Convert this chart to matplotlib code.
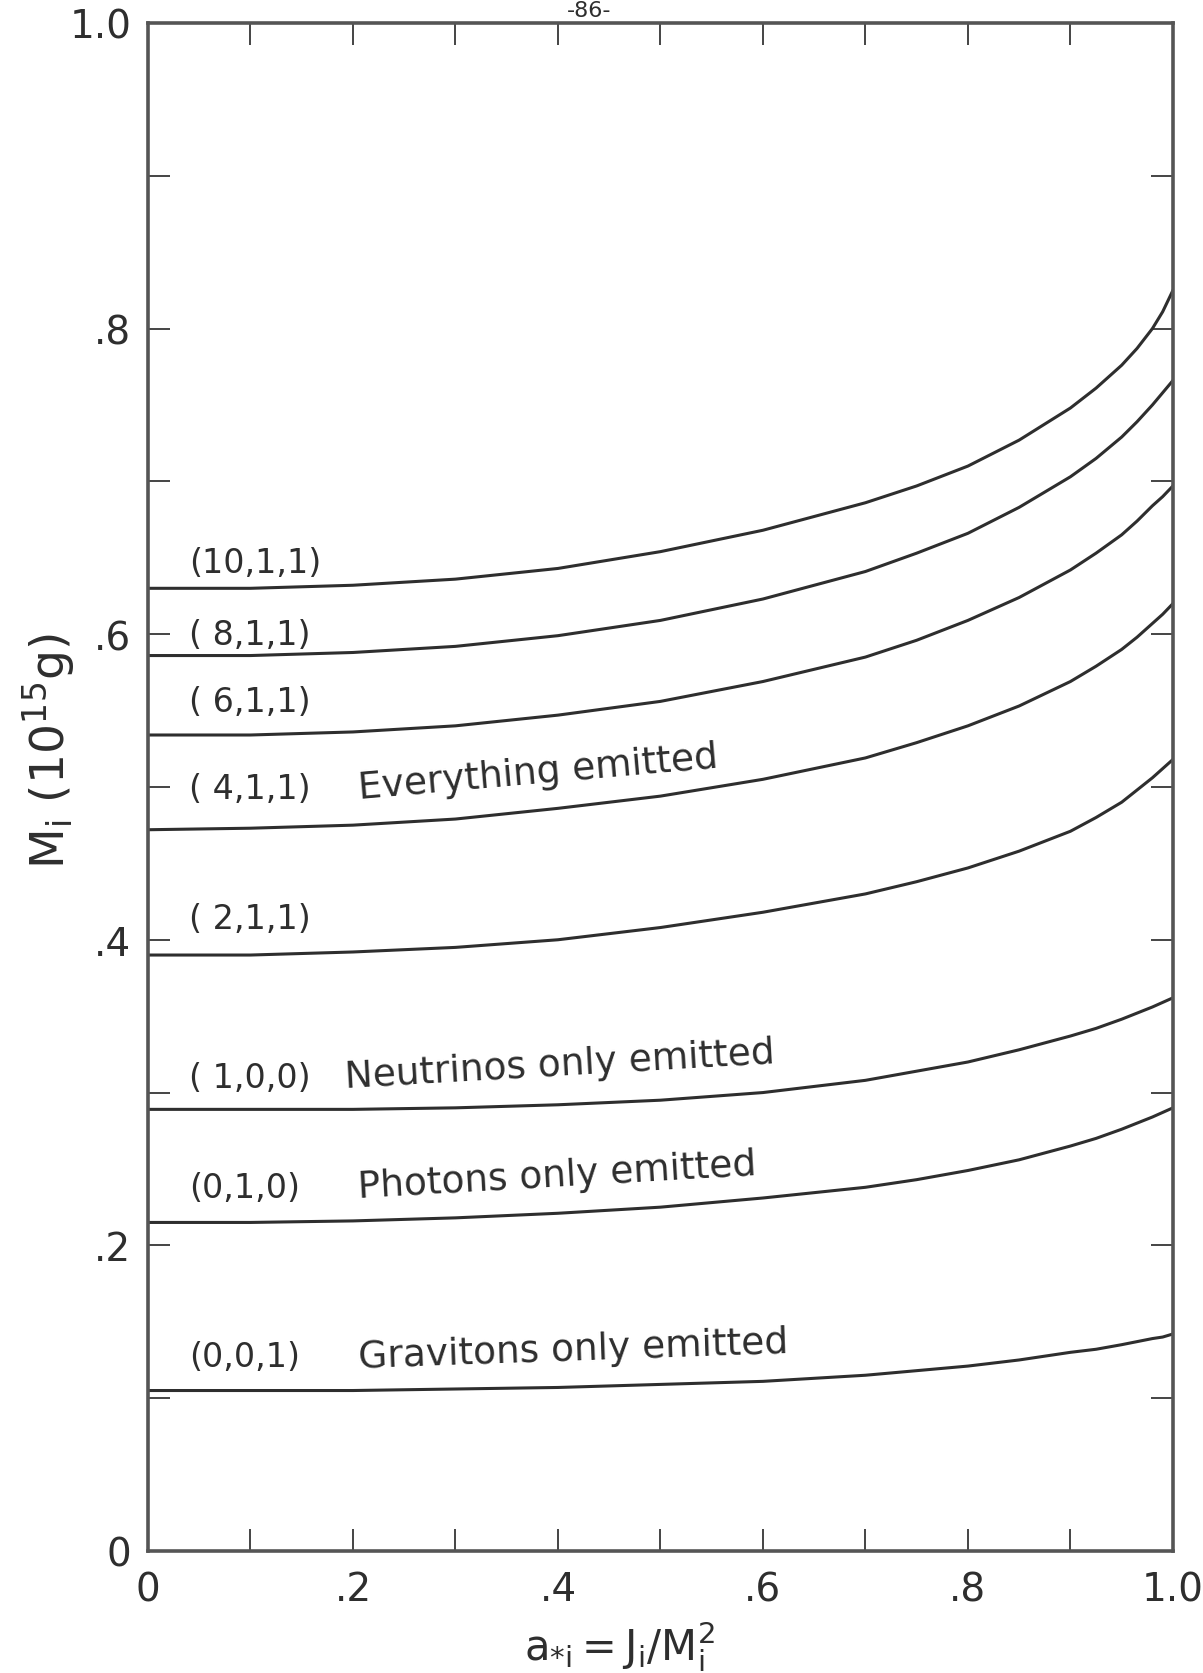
import matplotlib
matplotlib.use("Agg")
import matplotlib.pyplot as plt

# spin parameter a*i read at these points
a_star = [0, 0.1, 0.2, 0.3, 0.4, 0.5, 0.6, 0.7, 0.75, 0.8, 0.85, 0.9, 0.925, 0.95, 0.965, 0.98, 0.99, 1.0]

# initial mass Mi (10^15 g) for each emission case
m_10_1_1 = [0.630, 0.630, 0.632, 0.636, 0.643, 0.654, 0.668, 0.686, 0.697, 0.710, 0.727, 0.748, 0.761, 0.776, 0.787, 0.800, 0.811, 0.825]
m_8_1_1 = [0.586, 0.586, 0.588, 0.592, 0.599, 0.609, 0.623, 0.641, 0.653, 0.666, 0.683, 0.703, 0.715, 0.729, 0.739, 0.750, 0.758, 0.766]
m_6_1_1 = [0.534, 0.534, 0.536, 0.540, 0.547, 0.556, 0.569, 0.585, 0.596, 0.609, 0.624, 0.642, 0.653, 0.665, 0.674, 0.684, 0.690, 0.697]
m_4_1_1 = [0.472, 0.473, 0.475, 0.479, 0.486, 0.494, 0.505, 0.519, 0.529, 0.540, 0.553, 0.569, 0.579, 0.590, 0.598, 0.607, 0.613, 0.620]
m_2_1_1 = [0.390, 0.390, 0.392, 0.395, 0.400, 0.408, 0.418, 0.430, 0.438, 0.447, 0.458, 0.471, 0.480, 0.490, 0.498, 0.506, 0.512, 0.518]
m_1_0_0 = [0.289, 0.289, 0.289, 0.290, 0.292, 0.295, 0.300, 0.308, 0.314, 0.320, 0.328, 0.337, 0.342, 0.348, 0.352, 0.356, 0.359, 0.362]
m_0_1_0 = [0.215, 0.215, 0.216, 0.218, 0.221, 0.225, 0.231, 0.238, 0.243, 0.249, 0.256, 0.265, 0.270, 0.276, 0.280, 0.284, 0.287, 0.290]
m_0_0_1 = [0.105, 0.105, 0.105, 0.106, 0.107, 0.109, 0.111, 0.115, 0.118, 0.121, 0.125, 0.130, 0.132, 0.135, 0.137, 0.139, 0.140, 0.142]

curves = [m_10_1_1, m_8_1_1, m_6_1_1, m_4_1_1, m_2_1_1, m_1_0_0, m_0_1_0, m_0_0_1]
curve_labels = ["(10,1,1)", "( 8,1,1)", "( 6,1,1)", "( 4,1,1)", "( 2,1,1)", "( 1,0,0)", "(0,1,0)", "(0,0,1)"]
label_y = [0.647, 0.600, 0.556, 0.499, 0.414, 0.310, 0.238, 0.127]

notes = ["Everything emitted", "Neutrinos only emitted", "Photons only emitted", "Gravitons only emitted"]
note_x = [0.205, 0.192, 0.205, 0.205]
note_y = [0.499, 0.310, 0.238, 0.127]
note_angle = [5.0, 3.3, 3.3, 2.0]

x_ticks = [0, 0.1, 0.2, 0.3, 0.4, 0.5, 0.6, 0.7, 0.8, 0.9, 1.0]
x_ticklabels = ["0", "", ".2", "", ".4", "", ".6", "", ".8", "", "1.0"]
y_ticks = [0, 0.1, 0.2, 0.3, 0.4, 0.5, 0.6, 0.7, 0.8, 0.9, 1.0]
y_ticklabels = ["0", "", ".2", "", ".4", "", ".6", "", ".8", "", "1.0"]

ink = "#2e2e2e"
plt.rcParams["font.family"] = ["DejaVu Sans"]
plt.rcParams["mathtext.fontset"] = "dejavusans"

fig = plt.figure(figsize=(12.03, 16.74), dpi=100)
ax = fig.add_axes([0.123, 0.0729, 0.852, 0.9128])

for m in curves:
    ax.plot(a_star, m, color=ink, lw=2.2, solid_joinstyle="round")

for lab, y in zip(curve_labels, label_y):
    ax.text(0.04, y, lab, fontsize=24, color=ink, va="center", ha="left")

for txt, x, y, ang in zip(notes, note_x, note_y, note_angle):
    ax.text(x, y, txt, fontsize=27, color=ink, va="center", ha="left",
            rotation=ang, rotation_mode="anchor")

ax.set_xlim(0, 1)
ax.set_ylim(0, 1)
ax.set_xticks(x_ticks)
ax.set_xticklabels(x_ticklabels)
ax.set_yticks(y_ticks)
ax.set_yticklabels(y_ticklabels)
ax.tick_params(direction="in", length=16, width=1.4, color="#444444",
               top=True, right=True, labelsize=28, labelcolor=ink)
ax.tick_params(axis="x", pad=14)
ax.tick_params(axis="y", pad=12)
for s in ax.spines.values():
    s.set_linewidth(2.6)
    s.set_color("#555555")

ax.set_xlabel(r"$\mathregular{a_{*i} = J_i / M_i^2}$", fontsize=30, color=ink)
ax.xaxis.set_label_coords(0.46, -0.044)
ax.set_ylabel(r"$\mathregular{M_i\ (10^{15} g)}$", fontsize=34, color=ink)
ax.yaxis.set_label_coords(-0.068, 0.524)

fig.text(0.49, 0.9995, "-86-", fontsize=16, color=ink, ha="center", va="top")

fig.savefig("out.png", dpi=100)
